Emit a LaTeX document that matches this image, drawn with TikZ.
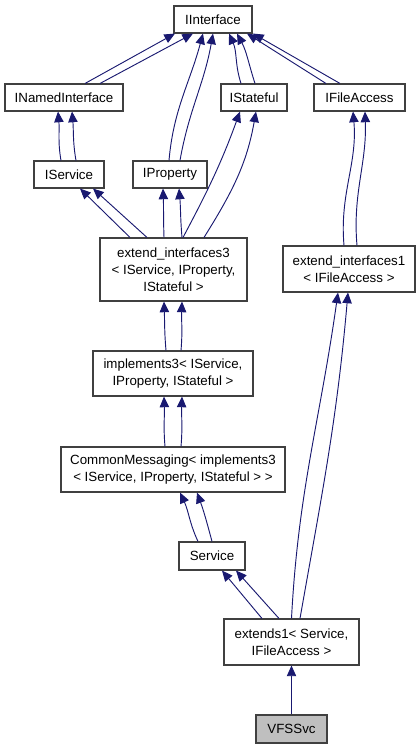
\documentclass[tikz,border=0pt]{standalone}
\usepackage{fontspec}
\setmainfont{Liberation Sans}
\usetikzlibrary{arrows.meta,calc}
\definecolor{depblue}{HTML}{191970}
\definecolor{boxline}{HTML}{404040}

\begin{document}
\begin{tikzpicture}[x=0.75pt, y=-0.75pt]
\tikzstyle{cls}=[draw=boxline, line width=0.8pt, rectangle, inner sep=1pt, align=center,
  font=\fontsize{10pt}{12.75pt}\selectfont, minimum height=20.25pt]
\tikzstyle{dep}=[draw=depblue, line width=0.7pt, -{Triangle[length=8pt,width=7pt]}]
\useasboundingbox (0,0) rectangle (420,749);

\draw (213,19.5) node[cls, minimum width=58.5pt] (iinterface) {IInterface};
\draw (64,97.5) node[cls, minimum width=88.5pt] (inamed) {INamedInterface};
\draw (254,97.5) node[cls, minimum width=49.5pt] (istateful) {IStateful};
\draw (359.5,97.5) node[cls, minimum width=68.25pt] (ifile) {IFileAccess};
\draw (69,174.5) node[cls, minimum width=52.5pt] (iservice) {IService};
\draw (170,174.5) node[cls, minimum width=55.5pt] (iproperty) {IProperty};
\draw (173.5,269.5) node[cls, minimum width=110.25pt, minimum height=47.25pt] (extint3)
  {extend\_interfaces3\\{}< IService, IProperty,\\IStateful >};
\draw (349,269) node[cls, minimum width=99pt, minimum height=34.5pt] (extint1)
  {extend\_interfaces1\\{}< IFileAccess >};
\draw (173,373.5) node[cls, minimum width=120pt, minimum height=33.75pt] (impl3)
  {implements3< IService,\\IProperty, IStateful >};
\draw (173,469.5) node[cls, minimum width=168pt, minimum height=33.75pt] (commsg)
  {CommonMessaging< implements3\\{}< IService, IProperty, IStateful > >};
\draw (212,556) node[cls, minimum width=49.5pt, minimum height=21pt] (service) {Service};
\draw (291.5,642) node[cls, minimum width=101.25pt, minimum height=34.5pt] (extends1)
  {extends1< Service,\\IFileAccess >};
\draw (291.5,729) node[cls, fill=black!25, minimum width=53.25pt, minimum height=21pt] (vfssvc) {VFSSvc};

% interfaces
\draw[dep] ($(inamed.north)+(21,0)$) -- ($(iinterface.south)+(-38,0)$);
\draw[dep] ($(inamed.north)+(36,0)$) -- ($(iinterface.south)+(-20,0)$);
\draw[dep] ($(iproperty.north)+(-1,0)$) to[out=85, in=-105] ($(iinterface.south)+(-10,0)$);
\draw[dep] ($(iproperty.north)+(10,0)$) to[out=80, in=-100] ($(iinterface.south)+(0,0)$);
\draw[dep] ($(istateful.north)+(-13,0)$) to[out=108, in=-66] ($(iinterface.south)+(16,0)$);
\draw[dep] ($(istateful.north)+(1,0)$) to[out=108, in=-62] ($(iinterface.south)+(24,0)$);
\draw[dep] ($(ifile.north)+(-33.5,0)$) -- ($(iinterface.south)+(34,0)$);
\draw[dep] ($(ifile.north)+(-19.5,0)$) -- ($(iinterface.south)+(40,0)$);
\draw[dep] ($(iservice.north)+(-8,0)$) to[out=100, in=-85] ($(inamed.south)+(-6,0)$);
\draw[dep] ($(iservice.north)+(7,0)$) to[out=100, in=-85] ($(inamed.south)+(8,0)$);
\draw[dep] ($(extint1.north)+(-5,0)$) to[out=95, in=-85] ($(ifile.south)+(-6.5,0)$);
\draw[dep] ($(extint1.north)+(8,0)$) to[out=95, in=-88] ($(ifile.south)+(5.5,0)$);

% extend_interfaces3
\draw[dep] ($(extint3.north)+(-43.5,0)$) -- ($(iservice.south)+(11,0)$);
\draw[dep] ($(extint3.north)+(-26.5,0)$) -- ($(iservice.south)+(24,0)$);
\draw[dep] ($(extint3.north)+(-9.5,0)$) to[out=92, in=-88] ($(iproperty.south)+(-7,0)$);
\draw[dep] ($(extint3.north)+(8.5,0)$) to[out=95, in=-85] ($(iproperty.south)+(9,0)$);
\draw[dep] ($(extint3.north)+(9.5,0)$) to[out=62, in=-110] ($(istateful.south)+(-14,0)$);
\draw[dep] ($(extint3.north)+(30.5,0)$) to[out=58, in=-100] ($(istateful.south)+(2,0)$);

% chain
\draw[dep] ($(impl3.north)+(-7,0)$) to[out=95, in=-88] ($(extint3.south)+(-9.5,0)$);
\draw[dep] ($(impl3.north)+(8,0)$) to[out=85, in=-92] ($(extint3.south)+(8.5,0)$);
\draw[dep] ($(commsg.north)+(-8,0)$) to[out=95, in=-88] ($(impl3.south)+(-9,0)$);
\draw[dep] ($(commsg.north)+(8,0)$) to[out=85, in=-92] ($(impl3.south)+(9,0)$);
\draw[dep] ($(service.north)+(-14,0)$) to[out=115, in=-65] ($(commsg.south)+(7,0)$);
\draw[dep] ($(service.north)+(0,0)$) to[out=105, in=-70] ($(commsg.south)+(24,0)$);
\draw[dep] ($(extends1.north)+(-29.5,0)$) -- ($(service.south)+(10,0)$);
\draw[dep] ($(extends1.north)+(-12.5,0)$) -- ($(service.south)+(24,0)$);
\draw[dep] ($(extends1.north)+(0,0)$) to[out=87, in=-98] ($(extint1.south)+(-11,0)$);
\draw[dep] ($(extends1.north)+(8.5,0)$) to[out=80, in=-95] ($(extint1.south)+(-1,0)$);
\draw[dep] (vfssvc) -- (extends1);
\end{tikzpicture}
\end{document}
